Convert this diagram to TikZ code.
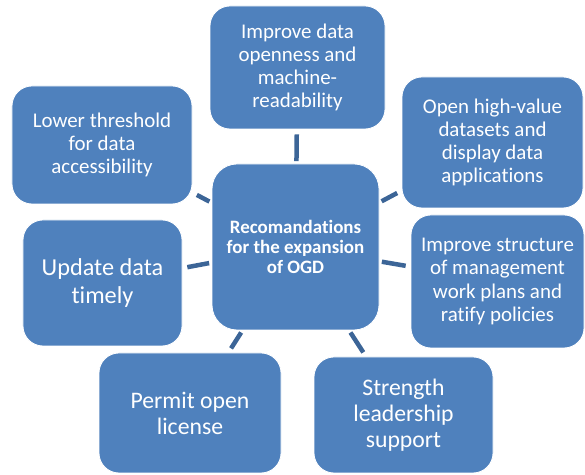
\documentclass[tikz,border=0pt]{standalone}
\usepackage{fontspec}
\setmainfont{Carlito}[Ligatures=NoCommon]
\definecolor{boxblue}{HTML}{4F81BD}
\definecolor{linkblue}{HTML}{3C6597}
\begin{document}
\begin{tikzpicture}[x=1bp,y=1bp,
  box/.style={rectangle, rounded corners=20bp, fill=boxblue, draw=white, line width=0.8bp,
              text=white, align=center, inner sep=0pt},
  txtA/.style={font=\fontsize{21}{23.3}\selectfont},
  txtB/.style={font=\fontsize{24.4}{29}\selectfont},
  txtC/.style={font=\fontsize{23.8}{26}\selectfont},
  link/.style={draw=linkblue, line width=4.5bp, shorten <=2.5bp, shorten >=5bp}]
\useasboundingbox (0,0) rectangle (585,475);
\node[box, minimum width=167bp, minimum height=166bp, rounded corners=25bp,
      font=\bfseries\fontsize{19}{20.5}\selectfont] (c) at (295.5,228)
      {Recomandations\\for the expansion\\of OGD};
\node[box, txtA, minimum width=175bp, minimum height=123bp] (top) at (297.5,407.5)
      {Improve data\\openness and\\machine-\\readability};
\node[box, txtA, minimum width=180bp, minimum height=118bp] (lt) at (102,330)
      {Lower threshold\\for data\\accessibility};
\node[box, txtA, minimum width=181bp, minimum height=131bp] (ohv) at (492.5,332.5)
      {Open high-value\\datasets and\\display data\\applications};
\node[box, txtA, minimum width=173bp, minimum height=133bp] (is) at (497.5,193.5)
      {Improve structure\\of management\\work plans and\\ratify policies};
\node[box, txtB, minimum width=159bp, minimum height=126bp] (ud) at (102.5,192)
      {Update data\\timely};
\node[box, txtC, minimum width=182bp, minimum height=120bp] (pol) at (190,62)
      {Permit open\\license};
\node[box, txtC, minimum width=179bp, minimum height=116bp] (sls) at (403.5,60)
      {Strength\\leadership\\support};
\draw[link] (c) -- (top);
\draw[link] (c) -- (lt);
\draw[link] (c) -- (ohv);
\draw[link] (c) -- (is);
\draw[link] (c) -- (ud);
\draw[link] (c) -- (pol);
\draw[link] (c) -- (sls);
\end{tikzpicture}
\end{document}
